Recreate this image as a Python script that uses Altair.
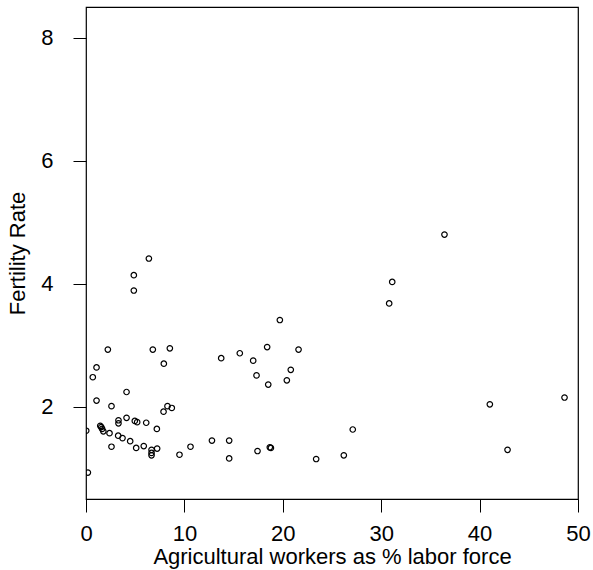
import altair as alt
import pandas as pd

agri = [36.43, 6.39, 4.86, 4.86, 31.12, 30.81, 19.70, 2.22, 6.79, 8.52,
        18.41, 21.60, 15.63, 13.74, 16.99, 7.91, 1.07, 0.69, 17.33, 20.81,
        20.41, 18.52, 4.12, 1.07, 2.59, 8.28, 7.88, 8.72, 41.04, 48.63,
        4.12, 3.30, 3.30, 4.96, 5.20, 6.12, 1.45, 1.55, 1.64, 1.76,
        0.02, 2.39, 7.20, 27.11, 3.27, 3.71, 4.49, 5.87, 5.10, 2.59,
        6.66, 6.66, 6.66, 7.23, 9.50, 10.62, 12.80, 14.55, 14.55, 17.43,
        18.68, 18.79, 23.39, 26.20, 42.84, 0.19]
fert = [4.80, 4.41, 4.14, 3.89, 4.03, 3.68, 3.41, 2.93, 2.93, 2.95,
        2.97, 2.93, 2.87, 2.79, 2.75, 2.70, 2.64, 2.48, 2.51, 2.60,
        2.43, 2.36, 2.24, 2.10, 2.01, 2.01, 1.92, 1.98, 2.04, 2.15,
        1.82, 1.78, 1.73, 1.77, 1.75, 1.74, 1.69, 1.67, 1.64, 1.60,
        1.61, 1.57, 1.64, 1.63, 1.53, 1.49, 1.44, 1.36, 1.33, 1.35,
        1.30, 1.25, 1.21, 1.32, 1.22, 1.35, 1.45, 1.45, 1.16, 1.28,
        1.34, 1.33, 1.15, 1.21, 1.30, 0.93]

x_ticks = [0, 10, 20, 30, 40, 50]
y_ticks = [2, 4, 6, 8]

df = pd.DataFrame({"agri": agri, "fert": fert})

FONT = "Liberation Sans"
FS = 22

chart = alt.Chart(df).mark_point(
    shape="circle", filled=False, color="black", size=30, strokeWidth=1.2,
    opacity=1, clip=True
).encode(
    x=alt.X("agri:Q", scale=alt.Scale(domain=[0, 50], nice=False, zero=False),
            axis=alt.Axis(values=x_ticks, title="Agricultural workers as % labor force",
                          grid=False, domain=False, tickColor="black", tickSize=13,
                          tickWidth=1, labelFontSize=FS, labelFont=FONT,
                          labelColor="black", labelPadding=28, labelFlush=False,
                          labelBaseline="alphabetic",
                          titleFontSize=FS, titleFont=FONT, titleFontWeight="normal",
                          titleColor="black", titleX=246, titleY=64,
                          titleBaseline="alphabetic", titleAlign="center")),
    y=alt.Y("fert:Q", scale=alt.Scale(domain=[0.5, 8.5], nice=False, zero=False),
            axis=alt.Axis(values=y_ticks, title="Fertility Rate",
                          grid=False, domain=False, tickColor="black", tickSize=13,
                          tickWidth=1, labelFontSize=FS, labelFont=FONT,
                          labelColor="black", labelPadding=20, labelFlush=False,
                          titleFontSize=FS, titleFont=FONT, titleFontWeight="normal",
                          titleColor="black", titleAngle=-90, titleX=-62, titleY=246,
                          titleBaseline="alphabetic", titleAlign="center")),
).properties(
    width=492, height=492,
    autosize=alt.AutoSizeParams(type="none"),
    padding={"left": 86, "top": 7, "right": 15, "bottom": 71},
    background="white",
).configure_view(
    stroke="black", strokeWidth=1.2, fill="white"
)

chart.save("out.html", embed_options={"renderer": "svg", "actions": False})
